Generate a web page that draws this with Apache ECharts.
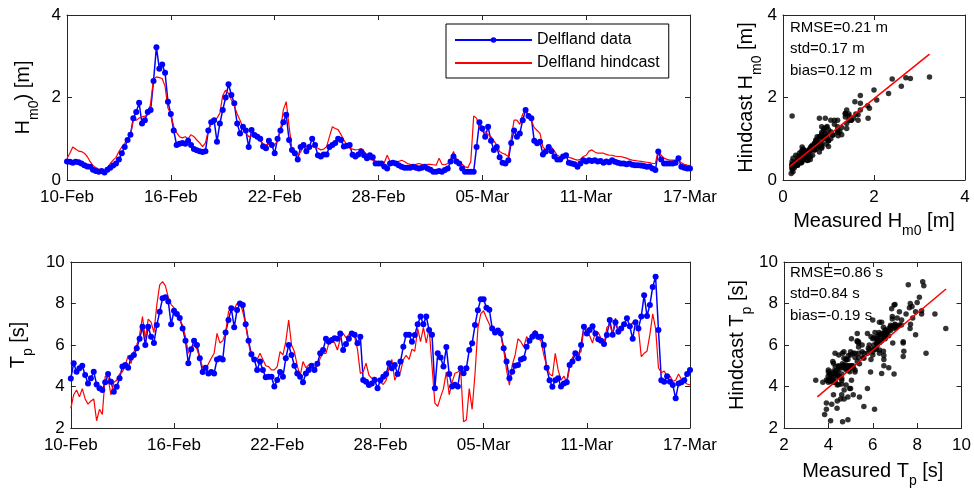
<!DOCTYPE html>
<html><head><meta charset="utf-8">
<script src="https://cdn.jsdelivr.net/npm/echarts@6/dist/echarts.min.js"></script>
<style>html,body{margin:0;padding:0;background:#fff}#c{width:974px;height:491px}</style>
</head><body><div id="c"></div>
<script>
// ---------- data ----------
const dateTicks = ['10-Feb','16-Feb','22-Feb','28-Feb','05-Mar','11-Mar','17-Mar'];
const stepsPerDay = 6; // 4-hourly samples, day 0 = 10-Feb
const hm0Data = [
0.45,0.44,0.42,0.44,0.43,0.40, 0.36,0.33,0.32,0.25,0.22,0.20, 0.22,0.18,0.25,0.30,0.35,0.40,
0.50,0.65,0.80,0.97,1.10,1.50, 1.65,1.87,1.37,1.45,1.65,1.70, 2.40,3.22,2.70,2.80,2.60,1.90,
1.60,1.20,0.85,0.88,0.90,0.88, 0.95,0.85,0.75,0.72,0.70,0.68, 0.70,1.20,1.40,1.45,0.93,1.37,
1.70,2.00,2.32,2.06,1.86,1.37, 1.13,1.29,1.20,0.80,1.21,1.09, 1.05,1.00,0.81,0.77,0.95,0.85,
0.65,1.00,1.20,1.40,1.58,0.97, 0.73,0.65,0.50,0.80,0.85,0.70, 0.80,1.00,0.85,0.60,0.57,0.62,
0.62,0.80,0.85,0.90,1.00,0.97, 0.81,0.83,0.85,0.61,0.57,0.62, 0.69,0.60,0.53,0.60,0.55,0.40,
0.40,0.40,0.33,0.28,0.40,0.42, 0.40,0.36,0.32,0.30,0.30,0.30, 0.32,0.30,0.28,0.30,0.32,0.28,
0.25,0.20,0.20,0.22,0.20,0.24, 0.28,0.45,0.57,0.45,0.40,0.28, 0.20,0.20,0.20,0.20,0.80,1.40,
1.25,1.05,1.29,0.95,0.73,0.80, 0.55,0.42,0.40,0.48,0.90,1.20, 1.05,1.13,1.45,1.70,1.55,1.50,
0.95,0.89,0.93,0.62,0.69,0.80, 0.70,0.57,0.50,0.50,0.57,0.60, 0.42,0.40,0.38,0.32,0.40,0.48,
0.45,0.48,0.46,0.48,0.45,0.46, 0.42,0.45,0.43,0.48,0.44,0.42, 0.40,0.40,0.38,0.40,0.37,0.36,
0.36,0.35,0.34,0.32,0.33,0.28, 0.24,0.69,0.50,0.40,0.40,0.40, 0.40,0.42,0.53,0.32,0.30,0.28,
0.28];
const hm0Hind = [
0.52,0.65,0.80,0.75,0.70,0.69, 0.65,0.57,0.45,0.35,0.30,0.26, 0.20,0.16,0.30,0.40,0.48,0.55,
0.69,0.80,0.89,1.00,1.09,1.45, 1.45,1.50,1.53,1.55,1.58,1.86, 2.45,2.50,2.48,2.46,2.27,1.74,
1.60,1.29,1.15,1.05,1.02,1.05, 1.00,1.10,1.05,0.97,0.90,0.81, 0.90,1.20,1.37,1.45,1.50,1.62,
2.05,2.18,2.10,1.94,1.80,1.60, 1.45,1.27,1.15,1.05,1.07,1.09, 1.00,0.95,0.88,0.85,0.87,0.89,
0.85,0.95,1.20,1.70,1.90,1.30, 0.75,0.60,0.60,0.68,0.81,0.81, 0.81,0.81,0.80,0.77,0.73,0.75,
0.81,1.05,1.29,1.25,1.22,1.10, 0.97,0.85,0.77,0.75,0.73,0.74, 0.76,0.70,0.57,0.50,0.48,0.45,
0.44,0.42,0.42,0.60,0.45,0.44, 0.44,0.45,0.48,0.45,0.40,0.38, 0.36,0.38,0.40,0.38,0.36,0.38,
0.38,0.37,0.36,0.53,0.38,0.37, 0.40,0.50,0.69,0.50,0.42,0.38, 0.32,0.30,0.45,1.55,1.50,1.25,
1.17,1.17,1.10,1.05,0.95,0.85, 0.69,0.65,0.62,0.57,1.00,1.45, 1.45,1.35,1.60,1.70,1.50,1.45,
1.27,1.20,1.13,0.80,0.73,0.80, 0.79,0.70,0.60,0.57,0.57,0.57, 0.55,0.53,0.50,0.48,0.50,0.57,
0.60,0.70,0.73,0.68,0.65,0.65, 0.65,0.62,0.60,0.60,0.58,0.57, 0.57,0.55,0.53,0.50,0.48,0.47,
0.46,0.45,0.44,0.43,0.42,0.40, 0.40,0.73,0.60,0.53,0.50,0.48, 0.48,0.48,0.47,0.42,0.38,0.36,
0.35];
const tpData = [
4.39,5.12,4.71,4.88,5.00,4.55, 4.15,4.40,4.71,4.10,3.91,3.83, 4.20,4.60,4.23,3.75,3.99,4.40,
4.96,5.04,4.90,5.40,5.52,5.84, 6.30,6.88,6.00,6.88,6.40,6.10, 6.96,7.60,8.25,8.30,8.10,7.00,
7.65,7.50,7.30,6.80,6.20,5.12, 5.80,6.20,6.00,5.36,4.70,4.90, 4.63,4.70,4.63,5.30,5.36,5.30,
6.60,7.20,7.77,6.85,7.69,8.00, 7.93,7.00,6.20,5.56,5.30,4.80, 5.20,4.80,4.45,4.47,4.47,4.00,
4.31,4.70,4.47,5.36,6.00,5.52, 5.00,4.63,4.47,4.20,4.63,4.80, 5.00,4.80,5.10,5.60,5.76,6.30,
6.16,6.24,6.32,6.30,6.56,5.76, 6.05,6.30,6.56,6.50,6.08,6.40, 4.31,4.23,4.07,4.15,4.31,3.91,
4.30,4.47,4.60,5.12,4.88,5.04, 4.60,5.20,5.92,6.50,6.50,6.16, 6.48,7.00,7.37,7.00,7.37,6.72,
6.50,3.91,5.60,5.40,4.96,5.90, 4.60,4.00,4.08,4.00,4.88,4.64, 4.88,5.76,6.08,6.96,7.68,8.20,
8.20,7.80,7.70,6.80,6.60,6.70, 6.56,5.84,5.20,4.40,4.71,5.00, 5.04,5.30,5.36,5.92,6.20,6.40,
6.56,6.40,6.40,6.00,4.90,4.30, 3.99,4.30,4.40,4.00,4.15,4.20, 5.04,5.20,5.60,5.36,6.00,6.88,
6.56,6.72,6.90,6.56,6.28,6.20, 6.05,6.48,7.20,6.50,7.10,6.64, 6.80,7.00,7.29,6.90,6.30,7.10,
6.80,7.37,8.40,7.40,7.93,8.80, 9.29,6.72,4.30,4.23,4.50,4.23, 4.07,3.43,4.15,4.20,4.30,4.60,
4.80];
const tpHind = [
2.95,3.60,3.83,3.50,3.90,3.40, 3.15,3.30,3.40,2.35,2.90,2.65, 4.50,4.40,3.60,4.20,4.30,4.60,
4.71,5.00,5.50,5.10,5.68,6.00, 6.50,7.37,6.30,7.25,7.10,6.60, 7.93,8.90,9.05,8.85,8.30,7.95,
7.80,7.50,7.20,6.95,6.40,5.60, 5.84,6.00,5.80,5.40,4.90,4.80, 5.10,5.36,5.60,6.56,6.10,6.20,
6.60,7.60,7.85,7.75,8.00,8.05, 7.60,7.00,6.10,5.40,5.20,5.30, 5.60,5.30,5.00,4.96,4.80,4.80,
4.96,5.68,5.52,6.16,7.20,6.00, 5.68,5.00,4.50,5.20,4.90,5.04, 5.00,4.80,5.00,5.36,5.60,5.60,
6.08,6.16,6.12,5.76,6.30,6.56, 6.35,6.50,6.50,6.40,5.80,4.63, 4.71,5.12,4.55,4.39,4.45,4.31,
4.20,4.10,4.30,4.90,5.30,4.30, 4.60,4.70,5.30,5.50,5.30,5.80, 5.70,6.80,6.16,6.85,6.10,6.80,
5.00,3.20,3.04,3.50,3.90,4.70, 3.60,4.20,4.64,4.70,4.80,2.30, 2.40,3.90,2.90,4.60,6.80,7.50,
7.65,7.30,7.00,6.70,6.60,6.70, 6.48,5.76,4.80,4.07,5.04,5.52, 6.30,6.16,5.90,6.40,6.20,6.56,
6.70,6.30,6.20,5.52,5.00,4.60, 4.50,5.60,4.80,4.30,4.50,4.20, 4.90,5.40,5.60,5.60,5.68,6.90,
6.72,6.45,6.10,6.60,6.60,6.30, 6.00,6.85,6.96,6.56,7.30,6.60, 6.88,6.96,6.96,6.85,7.10,6.90,
6.80,5.44,5.60,5.70,6.50,7.50, 6.80,4.90,4.66,4.75,4.50,4.50, 4.25,4.30,4.60,4.35,4.20,4.12,
4.07];
const hm0Fit = [[0.15,0.33],[3.22,3.05]];
const tpFit = [[3.5,3.5],[9.3,8.7]];
const hm0Stats = ['RMSE=0.21 m','std=0.17 m','bias=0.12 m'];
const tpStats = ['RMSE=0.86 s','std=0.84 s','bias=-0.19 s'];

// ---------- chart ----------
const FF = '"Liberation Sans", Arial, Helvetica, sans-serif';
const AX = '#262626';
const RICH = {
  n:{fontSize:20, fontFamily:FF, color:'#000', lineHeight:34, verticalAlign:'middle'},
  s:{fontSize:14, fontFamily:FF, color:'#000', lineHeight:14, verticalAlign:'bottom'}
};
const t = hm0Data.map((_, i) => i / stepsPerDay);
const zip = (a, b) => a.map((v, i) => [v, b[i]]);

function axisPair(dim, gi, min, max, interval, formatter, name, nameGap){
  const base = {type:'value', gridIndex:gi, min, max, interval, splitLine:{show:false},
    axisLine:{show:true, onZero:false, lineStyle:{color:AX, width:1}},
    axisTick:{show:true, inside:true, length:5, lineStyle:{color:AX, width:1}}};
  const lab = {show:true, fontSize:17, fontFamily:FF, color:'#000', margin: dim === 'x' ? 9 : 6};
  if (formatter) lab.formatter = formatter;
  const main = Object.assign({}, base, {position: dim === 'x' ? 'bottom' : 'left',
    axisLabel: lab, name, nameLocation:'middle', nameGap, nameTextStyle:{rich:RICH}});
  const other = Object.assign({}, base, {position: dim === 'x' ? 'top' : 'right', axisLabel:{show:false}});
  return [main, other];
}
const dateFmt = v => dateTicks[Math.round(v / 6)];

const xAxis = [
  ...axisPair('x', 0, 0, 36, 6, dateFmt, '', 0),
  ...axisPair('x', 1, 0, 4, 2, null, '{n|Measured H}{s|m0}{n| [m]}', 24),
  ...axisPair('x', 2, 0, 36, 6, dateFmt, '', 0),
  ...axisPair('x', 3, 2, 10, 2, null, '{n|Measured T}{s|p}{n| [s]}', 26)
];
const yAxis = [
  ...axisPair('y', 0, 0, 4, 2, null, '{n|H}{s|m0}{n|) [m]}', 20),
  ...axisPair('y', 1, 0, 4, 2, null, '{n|Hindcast H}{s|m0}{n| [m]}', 19),
  ...axisPair('y', 2, 2, 10, 2, null, '{n|T}{s|p}{n| [s]}', 30),
  ...axisPair('y', 3, 2, 10, 2, null, '{n|Hindcast T}{s|p}{n| [s]}', 30)
];

const dataStyle = {type:'line', name:'Delfland data', symbol:'circle', symbolSize:6,
  showSymbol:true, showAllSymbol:true, itemStyle:{color:'#0000ff'},
  lineStyle:{color:'#0000ff', width:1.5}, emphasis:{disabled:true}};
const hindStyle = {type:'line', name:'Delfland hindcast', symbol:'none', showSymbol:false,
  itemStyle:{color:'#ff0000'}, lineStyle:{color:'#ff0000', width:1.2}, emphasis:{disabled:true}};

function statsText(x, y0, lines){
  return lines.map((s, i) => ({type:'text', left:x, top:y0 + i * 21.5,
    style:{text:s, font:'15px ' + FF, fill:'#000'}}));
}

const option = {
  animation:false,
  backgroundColor:'#fff',
  grid:[
    {left:67, top:15, width:623, height:165},
    {left:783, top:15, width:182, height:165},
    {left:67, top:262, width:623, height:166},
    {left:784, top:262, width:181, height:166}
  ],
  xAxis, yAxis,
  legend:{data:[{name:'Delfland data'}, {name:'Delfland hindcast', itemStyle:{opacity:0}}],
    orient:'vertical', left:446, top:24,
    padding:[8,9,7,8], itemGap:7, itemWidth:77, itemHeight:7,
    borderColor:'#000', borderWidth:1, borderRadius:0, backgroundColor:'#fff',
    selectedMode:false, textStyle:{fontSize:16, fontFamily:FF, color:'#000'}},
  graphic:[...statsText(790, 20, hm0Stats), ...statsText(790, 265, tpStats)],
  series:[
    Object.assign({}, dataStyle, {xAxisIndex:0, yAxisIndex:0, data:zip(t, hm0Data)}),
    Object.assign({}, hindStyle, {xAxisIndex:0, yAxisIndex:0, data:zip(t, hm0Hind)}),
    Object.assign({}, dataStyle, {xAxisIndex:4, yAxisIndex:4, data:zip(t, tpData)}),
    Object.assign({}, hindStyle, {xAxisIndex:4, yAxisIndex:4, data:zip(t, tpHind)}),
    {type:'scatter', xAxisIndex:2, yAxisIndex:2, data:zip(hm0Data, hm0Hind), symbolSize:5.5,
      itemStyle:{color:'#000'}, silent:true},
    {type:'line', xAxisIndex:2, yAxisIndex:2, data:hm0Fit, symbol:'none',
      lineStyle:{color:'#ff0000', width:1.5}, silent:true},
    {type:'scatter', xAxisIndex:6, yAxisIndex:6, data:zip(tpData, tpHind), symbolSize:5.5,
      itemStyle:{color:'#000'}, silent:true},
    {type:'line', xAxisIndex:6, yAxisIndex:6, data:tpFit, symbol:'none',
      lineStyle:{color:'#ff0000', width:1.5}, silent:true}
  ]
};
const chart = echarts.init(document.getElementById('c'), null, {renderer:'canvas'});
chart.setOption(option);
</script>
</body></html>
